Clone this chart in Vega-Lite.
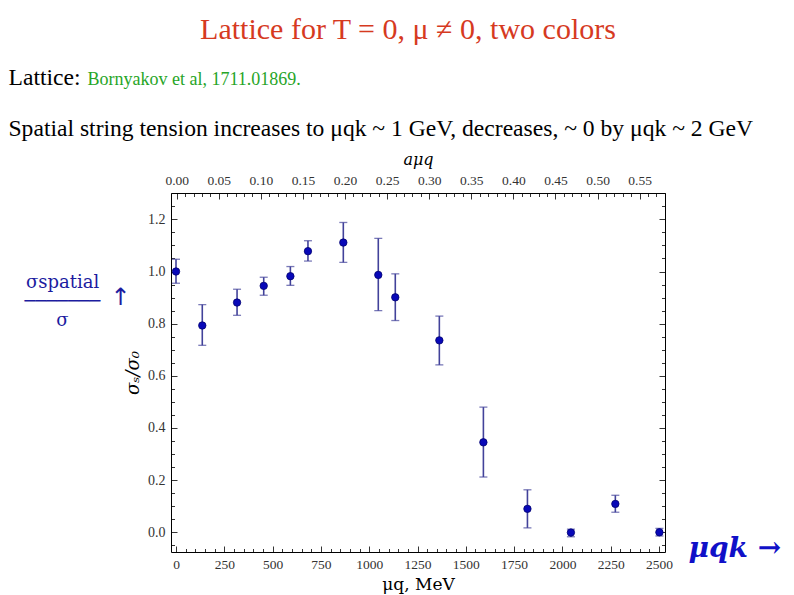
{
  "$schema": "https://vega.github.io/schema/vega-lite/v6.json",
  "autosize": "none",
  "width": 494,
  "height": 359,
  "padding": {"left": 171, "top": 193, "right": 129, "bottom": 43},
  "background": "white",
  "config": {
    "view": {"stroke": "black", "strokeWidth": 1},
    "axis": {
      "domain": false,
      "grid": false,
      "labelFont": "Liberation Serif",
      "labelFontSize": 14,
      "labelColor": "#333333",
      "labelFlush": false,
      "labelOverlap": false,
      "tickColor": "black",
      "tickWidth": 0.8,
      "titleFont": "DejaVu Serif",
      "titleFontWeight": "normal",
      "titleColor": "black"
    }
  },
  "title": {
    "text": "Lattice for T = 0, μ ≠ 0, two colors",
    "color": "#d63a1f",
    "font": "Liberation Serif",
    "fontSize": 30,
    "fontWeight": "normal",
    "anchor": "middle",
    "frame": "group",
    "baseline": "alphabetic",
    "dx": -10,
    "offset": -4
  },
  "datasets": {
    "lattice": [
      {"mu": 0, "s": 1.0, "lo": 0.955, "hi": 1.047},
      {"mu": 136, "s": 0.793, "lo": 0.717, "hi": 0.873},
      {"mu": 316, "s": 0.881, "lo": 0.832, "hi": 0.932},
      {"mu": 454, "s": 0.945, "lo": 0.909, "hi": 0.978},
      {"mu": 592, "s": 0.982, "lo": 0.947, "hi": 1.019},
      {"mu": 683, "s": 1.078, "lo": 1.04, "hi": 1.118},
      {"mu": 866, "s": 1.111, "lo": 1.035, "hi": 1.188},
      {"mu": 1047, "s": 0.987, "lo": 0.85, "hi": 1.127},
      {"mu": 1135, "s": 0.901, "lo": 0.812, "hi": 0.991},
      {"mu": 1363, "s": 0.736, "lo": 0.642, "hi": 0.829},
      {"mu": 1591, "s": 0.345, "lo": 0.212, "hi": 0.48},
      {"mu": 1819, "s": 0.09, "lo": 0.017, "hi": 0.163},
      {"mu": 2044, "s": -0.001, "lo": -0.017, "hi": 0.012},
      {"mu": 2274, "s": 0.109, "lo": 0.077, "hi": 0.142},
      {"mu": 2502, "s": 0.0, "lo": -0.014, "hi": 0.015}
    ],
    "guide": [{"amu": 0, "s": 0}]
  },
  "layer": [
    {
      "data": {"name": "lattice"},
      "mark": {"type": "rule", "color": "#42429a", "strokeWidth": 1.6},
      "encoding": {
        "x": {
          "field": "mu",
          "type": "quantitative",
          "scale": {"domain": [-25.9, 2531], "nice": false, "zero": false},
          "axis": {
            "orient": "bottom",
            "values": [0, 50, 100, 150, 200, 250, 300, 350, 400, 450, 500, 550, 600, 650, 700, 750, 800, 850, 900, 950, 1000, 1050, 1100, 1150, 1200, 1250, 1300, 1350, 1400, 1450, 1500, 1550, 1600, 1650, 1700, 1750, 1800, 1850, 1900, 1950, 2000, 2050, 2100, 2150, 2200, 2250, 2300, 2350, 2400, 2450, 2500],
            "labelExpr": "datum.value % 250 === 0 ? format(datum.value, 'd') : ''",
            "tickSize": {"condition": {"test": "datum.value % 250 === 0", "value": -6}, "value": -3.5},
            "labelPadding": 11,
            "labelFontSize": 13.5,
            "title": "μq, MeV",
            "titleFontSize": 17,
            "titlePadding": 3
          }
        },
        "y": {
          "field": "lo",
          "type": "quantitative",
          "scale": {"domain": [-0.0755, 1.301], "nice": false, "zero": false},
          "axis": {
            "orient": "left",
            "values": [-0.05, 0, 0.05, 0.1, 0.15, 0.2, 0.25, 0.3, 0.35, 0.4, 0.45, 0.5, 0.55, 0.6, 0.65, 0.7, 0.75, 0.8, 0.85, 0.9, 0.95, 1, 1.05, 1.1, 1.15, 1.2, 1.25, 1.3],
            "labelExpr": "abs(datum.value * 5 - round(datum.value * 5)) < 0.001 ? format(datum.value, '.1f') : ''",
            "tickSize": {"condition": {"test": "abs(datum.value * 5 - round(datum.value * 5)) < 0.001", "value": -6}, "value": -3.5},
            "labelPadding": 12,
            "title": "σₛ/σ₀",
            "titleFontStyle": "italic",
            "titleFontSize": 18,
            "titlePadding": 5
          }
        },
        "y2": {"field": "hi"}
      }
    },
    {
      "data": {"name": "lattice"},
      "mark": {"type": "tick", "orient": "horizontal", "size": 8, "thickness": 1.3, "color": "#42429a"},
      "encoding": {
        "x": {"field": "mu", "type": "quantitative", "scale": {"domain": [-25.9, 2531], "nice": false, "zero": false}, "axis": null},
        "y": {"field": "lo", "type": "quantitative", "scale": {"domain": [-0.0755, 1.301], "nice": false, "zero": false}, "axis": null}
      }
    },
    {
      "data": {"name": "lattice"},
      "mark": {"type": "tick", "orient": "horizontal", "size": 8, "thickness": 1.3, "color": "#42429a"},
      "encoding": {
        "x": {"field": "mu", "type": "quantitative", "scale": {"domain": [-25.9, 2531], "nice": false, "zero": false}, "axis": null},
        "y": {"field": "hi", "type": "quantitative", "scale": {"domain": [-0.0755, 1.301], "nice": false, "zero": false}, "axis": null}
      }
    },
    {
      "data": {"name": "lattice"},
      "mark": {"type": "point", "filled": true, "size": 55, "color": "#0808b8", "stroke": "#000070", "strokeWidth": 0.8, "opacity": 1},
      "encoding": {
        "x": {"field": "mu", "type": "quantitative", "scale": {"domain": [-25.9, 2531], "nice": false, "zero": false}, "axis": null},
        "y": {"field": "s", "type": "quantitative", "scale": {"domain": [-0.0755, 1.301], "nice": false, "zero": false}, "axis": null}
      }
    },
    {
      "data": {"name": "guide"},
      "mark": {"type": "point", "opacity": 0},
      "encoding": {
        "x": {
          "field": "amu",
          "type": "quantitative",
          "scale": {"domain": [-0.00677, 0.5801], "nice": false, "zero": false},
          "axis": {
            "orient": "top",
            "values": [0, 0.01, 0.02, 0.03, 0.04, 0.05, 0.06, 0.07, 0.08, 0.09, 0.1, 0.11, 0.12, 0.13, 0.14, 0.15, 0.16, 0.17, 0.18, 0.19, 0.2, 0.21, 0.22, 0.23, 0.24, 0.25, 0.26, 0.27, 0.28, 0.29, 0.3, 0.31, 0.32, 0.33, 0.34, 0.35, 0.36, 0.37, 0.38, 0.39, 0.4, 0.41, 0.42, 0.43, 0.44, 0.45, 0.46, 0.47, 0.48, 0.49, 0.5, 0.51, 0.52, 0.53, 0.54, 0.55, 0.56, 0.57, 0.58],
            "labelExpr": "abs(datum.value * 20 - round(datum.value * 20)) < 0.001 ? format(datum.value, '.2f') : ''",
            "tickSize": {"condition": {"test": "abs(datum.value * 20 - round(datum.value * 20)) < 0.001", "value": -6}, "value": -3.5},
            "labelPadding": 12,
            "labelFontSize": 13.5,
            "title": "aμq",
            "titleFontStyle": "italic",
            "titleFontSize": 16,
            "titlePadding": 3
          }
        },
        "y": {
          "field": "s",
          "type": "quantitative",
          "scale": {"domain": [-0.0755, 1.301], "nice": false, "zero": false},
          "axis": {
            "orient": "right",
            "values": [-0.05, 0, 0.05, 0.1, 0.15, 0.2, 0.25, 0.3, 0.35, 0.4, 0.45, 0.5, 0.55, 0.6, 0.65, 0.7, 0.75, 0.8, 0.85, 0.9, 0.95, 1, 1.05, 1.1, 1.15, 1.2, 1.25, 1.3],
            "labels": false,
            "tickSize": {"condition": {"test": "abs(datum.value * 5 - round(datum.value * 5)) < 0.001", "value": -6}, "value": -3.5},
            "title": "μqk →",
            "titleAngle": 0,
            "titleAlign": "left",
            "titleBaseline": "middle",
            "titleX": 23,
            "titleY": 355,
            "titleFont": "DejaVu Serif",
            "titleFontStyle": "italic",
            "titleFontWeight": "bold",
            "titleFontSize": 28,
            "titleColor": "#1010c8"
          }
        }
      }
    },
    {
      "data": {"name": "guide"},
      "mark": {"type": "point", "opacity": 0},
      "encoding": {
        "x": {
          "field": "amu",
          "type": "quantitative",
          "scale": {"domain": [0, 1]},
          "axis": {
            "orient": "top",
            "ticks": false,
            "labels": false,
            "title": ["Lattice:", "Spatial string tension increases to μqk ~ 1 GeV, decreases, ~ 0 by μqk ~ 2 GeV"],
            "titleFont": "Liberation Serif",
            "titleFontSize": 23.6,
            "titleLineHeight": 51,
            "titleAngle": 0,
            "titleAlign": "left",
            "titleBaseline": "alphabetic",
            "titleX": -163,
            "titleY": -109
          }
        },
        "y": {
          "field": "s",
          "type": "quantitative",
          "scale": {"domain": [0, 1]},
          "axis": {
            "orient": "left",
            "ticks": false,
            "labels": false,
            "title": ["σspatial", "───────", "σ"],
            "titleAngle": 0,
            "titleAlign": "center",
            "titleBaseline": "middle",
            "titleX": -109,
            "titleY": 89,
            "titleFont": "DejaVu Serif",
            "titleFontSize": 18,
            "titleLineHeight": 19,
            "titleColor": "#1c1ca0"
          }
        }
      }
    },
    {
      "data": {"name": "guide"},
      "mark": {"type": "point", "opacity": 0},
      "encoding": {
        "x": {
          "field": "amu",
          "type": "quantitative",
          "scale": {"domain": [0, 1]},
          "axis": {
            "orient": "top",
            "ticks": false,
            "labels": false,
            "title": "Bornyakov et al, 1711.01869.",
            "titleFont": "Liberation Serif",
            "titleFontSize": 18,
            "titleColor": "#27a527",
            "titleAngle": 0,
            "titleAlign": "left",
            "titleBaseline": "alphabetic",
            "titleX": -84,
            "titleY": -109
          }
        },
        "y": {
          "field": "s",
          "type": "quantitative",
          "scale": {"domain": [0, 1]},
          "axis": {
            "orient": "left",
            "ticks": false,
            "labels": false,
            "title": "↑",
            "titleAngle": 0,
            "titleAlign": "center",
            "titleBaseline": "middle",
            "titleX": -51,
            "titleY": 104,
            "titleFont": "DejaVu Sans",
            "titleFontSize": 24,
            "titleColor": "#1c1ca0"
          }
        }
      }
    }
  ],
  "resolve": {
    "scale": {"x": "independent", "y": "independent"},
    "axis": {"x": "independent", "y": "independent"}
  }
}
